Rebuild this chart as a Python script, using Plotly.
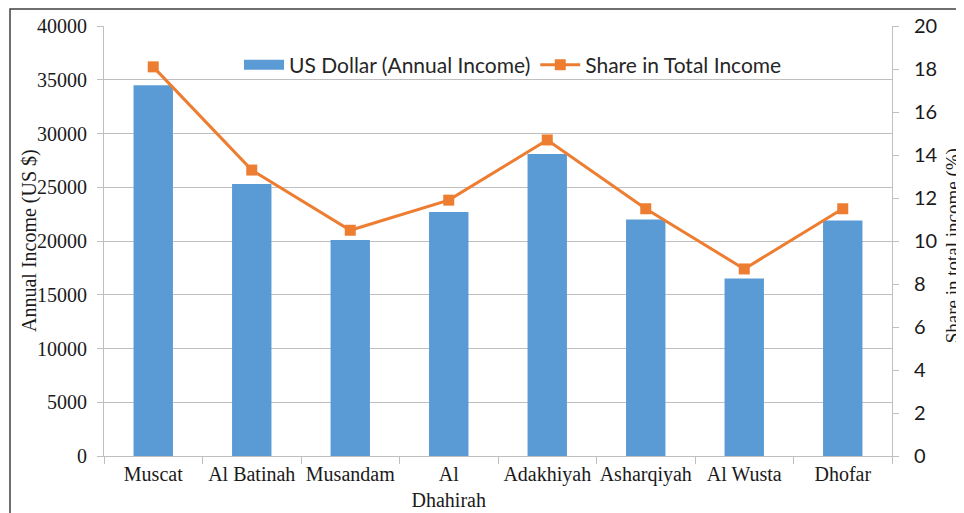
import plotly.graph_objects as go

regions = ["Muscat", "Al Batinah", "Musandam", "Al<br>Dhahirah", "Adakhiyah",
           "Asharqiyah", "Al Wusta", "Dhofar"]
income_usd = [34500, 25300, 20100, 22700, 28100, 22000, 16500, 21900]
share_pct = [18.1, 13.3, 10.5, 11.9, 14.7, 11.5, 8.7, 11.5]

BLUE = "#5B9BD5"
ORANGE = "#ED7D31"
GRID = "#BFBFBF"
SERIF = "Liberation Serif, Times New Roman, serif"
SANS = "Lato, Open Sans, sans-serif"

# page body has an 8px margin. Plot region on page: x 104..892, y 26..456
PW = 788.0


def px(page_x):
    return (page_x - 104) / PW


def py(page_y):
    return (456 - page_y) / 430.0


fig = go.Figure()
fig.add_trace(go.Bar(x=regions, y=income_usd, marker=dict(color=BLUE, line=dict(width=0)),
                     name="US Dollar (Annual Income)", showlegend=False, yaxis="y"))
# legend proxy for the bar series (wide swatch)
fig.add_trace(go.Scatter(x=[None], y=[None], mode="lines", name="US Dollar (Annual Income)",
                         line=dict(color=BLUE, width=10), yaxis="y"))
fig.add_trace(go.Scatter(x=regions, y=share_pct, mode="lines+markers", name="Share in Total Income",
                         line=dict(color=ORANGE, width=3),
                         marker=dict(symbol="square", size=11, color=ORANGE), yaxis="y2"))
# carrier for the right-hand tick labels axis
fig.add_trace(go.Scatter(x=[None], y=[None], mode="lines", showlegend=False, yaxis="y3",
                         hoverinfo="skip"))

fig.update_layout(
    width=964, height=513,
    margin=dict(l=96, r=80, t=18, b=65, autoexpand=False),
    paper_bgcolor="white", plot_bgcolor="white",
    bargap=0.6,
    showlegend=True,
    legend=dict(orientation="h", x=px(513), xanchor="center", y=py(65), yanchor="middle",
                font=dict(family=SANS, size=21, color="#262626"),
                itemwidth=40,
                bgcolor="rgba(0,0,0,0)", traceorder="normal"),
    xaxis=dict(type="category", showline=True, linecolor=GRID, linewidth=1,
               ticks="outside", tickson="boundaries", ticklen=7, tickcolor=GRID,
               tickangle=0, automargin=False,
               tickfont=dict(family=SERIF, size=20, color="#1a1a1a"), showgrid=False),
    yaxis=dict(range=[0, 40000], dtick=5000, tickformat="d", showgrid=True, gridcolor=GRID, gridwidth=1,
               showline=True, linecolor=GRID, ticks="outside", ticklen=6, tickcolor=GRID,
               ticklabelstandoff=6, zeroline=False, automargin=False,
               tickfont=dict(family=SERIF, size=20, color="#1a1a1a")),
    yaxis2=dict(range=[0, 20], dtick=2, overlaying="y", side="right", anchor="x", showgrid=False,
                showline=True, linecolor=GRID, ticks="outside", ticklen=6, tickcolor=GRID,
                showticklabels=False, zeroline=False, automargin=False),
    yaxis3=dict(range=[0, 20], dtick=2, overlaying="y", side="right", anchor="x",
                showgrid=False, showline=False, ticks="outside", ticklen=17,
                tickcolor="rgba(0,0,0,0)", zeroline=False, automargin=False,
                tickfont=dict(family=SANS, size=20, color="#1a1a1a")),
    annotations=[
        dict(text="Annual Income (US $)", xref="paper", yref="paper",
             x=px(29), y=0.5, xanchor="center", yanchor="middle",
             textangle=-90, showarrow=False, font=dict(family=SERIF, size=20, color="#1a1a1a")),
        dict(text="Share in total income (%)", xref="paper", yref="paper",
             x=px(953), y=0.49, xanchor="center", yanchor="middle",
             textangle=-90, showarrow=False, font=dict(family=SERIF, size=19, color="#1a1a1a")),
    ],
    shapes=[dict(type="rect", xref="paper", yref="paper",
                 x0=px(10), x1=px(1000),
                 y0=py(600), y1=py(9),
                 line=dict(color="#404040", width=1.5), layer="below")],
)

fig.write_html("out.html")
